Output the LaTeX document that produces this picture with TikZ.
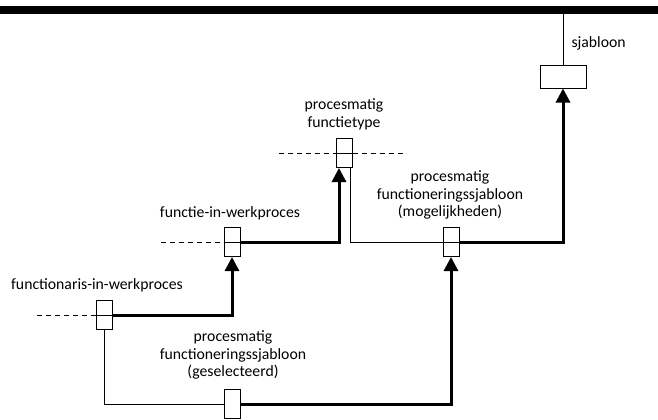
\documentclass[tikz,border=0pt]{standalone}
\usepackage{fontspec}
\setmainfont{Carlito}
\usetikzlibrary{arrows.meta}

\tikzset{every picture/.style={line width=0.75pt}}
\tikzset{
  kader/.style={draw, minimum width=12pt, minimum height=21.75pt, inner sep=0pt},
  sjabloonkader/.style={draw, minimum width=34.5pt, minimum height=17.25pt, inner sep=0pt},
  opschrift/.style={align=center, inner sep=0pt, font=\fontsize{11.8}{13.4}\selectfont},
  dik/.style={line width=2.25pt},
  pijl/.style={-{Triangle[length=10.5pt,width=10.5pt]}},
  streep/.style={dash pattern=on 3.75pt off 3pt}
}

\begin{document}
\begin{tikzpicture}[x=0.75pt,y=0.75pt,yscale=-1,xscale=1]
	\useasboundingbox (0,0) rectangle (658,419);

	% balk bovenaan
	\fill (0,6) rectangle (658,14);
	\coordinate (balk) at (563,14);

	% kaders
	\node[sjabloonkader] (sjabloon) at (563,76.5) {};
	\node[kader] (functietype) at (344,153) {};
	\node[kader] (mogelijk) at (451,242) {};
	\node[kader] (functie) at (232,242) {};
	\node[kader] (functionaris) at (104,315) {};
	\node[kader] (geselecteerd) at (232,404) {};

	% teksten
	\node[opschrift, anchor=west] (tsjabloon) at (571,43) {sjabloon};
	\node[opschrift] (tfunctietype) at (344,114) {procesmatig\\functietype};
	\node[opschrift] (tmogelijk) at (450,195) {procesmatig\\functioneringssjabloon\\(mogelijkheden)};
	\node[opschrift] (tfunctie) at (230,213) {functie-in-werkproces};
	\node[opschrift] (tfunctionaris) at (97,285) {functionaris-in-werkproces};
	\node[opschrift] (tgeselecteerd) at (233,355) {procesmatig\\functioneringssjabloon\\(geselecteerd)};

	% stippellijnen
	\coordinate (ftlinks) at (279,153);
	\coordinate (ftrechts) at (405,153);
	\coordinate (flinks) at (161,242);
	\coordinate (frlinks) at (37,315);
	\draw[streep] (ftlinks) -- (functietype.west);
	\draw[streep] (functietype.east) -- (ftrechts);
	\draw[streep] (flinks) -- (functie.west);
	\draw[streep] (frlinks) -- (functionaris.west);

	% lijnen door de kaders
	\draw (functietype.west) -- (functietype.east);
	\draw (functie.west) -- (functie.east);
	\draw (functionaris.west) -- (functionaris.east);
	\draw (mogelijk.west) -- (mogelijk.east);

	% verbindingen
	\draw (balk) -- (sjabloon.north);
	\draw[dik,pijl] (functionaris.east) -| (functie.south);
	\draw (functionaris.south) |- (geselecteerd.west);
	\draw[dik,pijl] (geselecteerd.east) -| (mogelijk.south);
	\draw[dik,pijl] (functie.east) -| ([xshift=-3.75pt]functietype.south);
	\draw ([xshift=4.5pt]functietype.south) |- (mogelijk.west);
	\draw[dik,pijl] (mogelijk.east) -| (sjabloon.south);

\end{tikzpicture}
\end{document}
